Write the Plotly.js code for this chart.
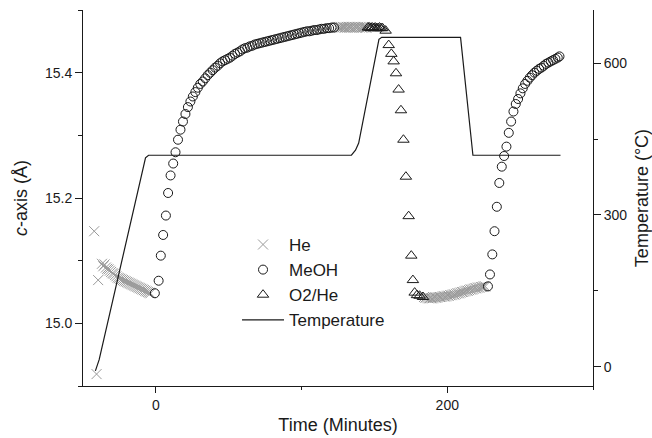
<!DOCTYPE html>
<html>
<head>
<meta charset="utf-8">
<script src="https://cdn.plot.ly/plotly-3.0.1.min.js"></script>
<style>html,body{margin:0;padding:0;background:#fff;}#chart{width:652px;height:438px;}</style>
</head>
<body>
<div id="chart"></div>
<script>
// He (gray crosses), three runs
const heTime1 = [-42.3, -40.7, -39.6, -37.0, -36.1, -35.2, -34.3, -33.4, -32.5, -31.6, -30.7, -29.8, -28.9, -28.0, -27.1, -26.2, -25.3, -24.4, -23.5, -22.6, -21.7, -20.8, -19.9, -19.0, -18.1, -17.2, -16.3, -15.4, -14.5, -13.6, -12.7, -11.8, -10.9, -10.0, -9.1, -8.2, -7.3, -6.4, -5.5, -4.6, -3.7];
const heC1 = [15.147, 14.919, 15.069, 15.095, 15.091, 15.094, 15.089, 15.087, 15.086, 15.084, 15.082, 15.080, 15.079, 15.077, 15.075, 15.073, 15.072, 15.071, 15.070, 15.069, 15.068, 15.067, 15.066, 15.065, 15.064, 15.063, 15.062, 15.061, 15.060, 15.059, 15.058, 15.057, 15.056, 15.055, 15.054, 15.053, 15.052, 15.051, 15.050, 15.049, 15.048];
const heTime2 = [124.5, 125.3, 126.1, 126.9, 127.7, 128.5, 129.3, 130.1, 130.9, 131.7, 132.5, 133.3, 134.1, 134.9, 135.7, 136.5, 137.3, 138.1, 138.9, 139.7, 140.5, 141.3, 142.1, 142.9, 143.7, 144.5];
const heC2 = [15.472, 15.473, 15.472, 15.473, 15.472, 15.473, 15.472, 15.472, 15.473, 15.472, 15.473, 15.472, 15.472, 15.473, 15.472, 15.473, 15.472, 15.472, 15.473, 15.472, 15.473, 15.472, 15.472, 15.473, 15.472, 15.472];
const heTime3 = [184, 185, 186, 187, 188, 189, 190, 191, 192, 193, 194, 195, 196, 197, 198, 199, 200, 201, 202, 203, 204, 205, 206, 207, 208, 209, 210, 211, 212, 213, 214, 215, 216, 217, 218, 219, 220, 221, 222, 223, 224, 225, 226];
const heC3 = [15.042, 15.041, 15.041, 15.040, 15.040, 15.040, 15.040, 15.041, 15.041, 15.041, 15.042, 15.042, 15.042, 15.043, 15.043, 15.043, 15.044, 15.044, 15.045, 15.045, 15.046, 15.046, 15.047, 15.048, 15.048, 15.049, 15.050, 15.050, 15.051, 15.052, 15.052, 15.053, 15.054, 15.054, 15.055, 15.056, 15.056, 15.057, 15.057, 15.058, 15.058, 15.059, 15.059];

// MeOH (open circles), two runs
const meohTime1 = [-0.7, 1.9, 3.4, 5.0, 6.9, 8.4, 10.1, 11.9, 13.5, 15.2, 16.9, 18.6, 20.3, 22.0, 23.7, 25.4, 27.1, 28.8, 30.5, 32.2, 33.9, 35.6, 37.3, 39.0, 40.7, 42.4, 44.1, 45.8, 47.5, 49.2, 50.9, 52.6, 54.3, 56.0, 57.7, 59.4, 61.1, 62.8, 64.5, 66.2, 67.9, 69.6, 71.3, 73.0, 74.7, 76.4, 78.1, 79.8, 81.5, 83.2, 84.9, 86.6, 88.3, 90.0, 91.7, 93.4, 95.1, 96.8, 98.5, 100.2, 101.9, 103.6, 105.3, 107.0, 108.7, 110.4, 112.1, 113.8, 115.5, 117.2, 118.9, 120.6, 122.3];
const meohC1 = [15.048, 15.068, 15.108, 15.141, 15.172, 15.208, 15.236, 15.255, 15.273, 15.293, 15.309, 15.322, 15.334, 15.345, 15.354, 15.362, 15.369, 15.376, 15.382, 15.386, 15.391, 15.396, 15.400, 15.404, 15.408, 15.411, 15.415, 15.418, 15.420, 15.422, 15.424, 15.427, 15.430, 15.432, 15.434, 15.437, 15.439, 15.440, 15.442, 15.443, 15.445, 15.446, 15.447, 15.448, 15.449, 15.450, 15.451, 15.452, 15.453, 15.454, 15.455, 15.456, 15.457, 15.458, 15.459, 15.460, 15.461, 15.462, 15.463, 15.464, 15.465, 15.466, 15.466, 15.467, 15.468, 15.468, 15.469, 15.470, 15.470, 15.471, 15.471, 15.472, 15.472];
const meohTime2 = [227.9, 229.3, 230.9, 232.4, 234.0, 235.7, 237.4, 239.0, 240.6, 242.2, 243.8, 245.4, 247.0, 248.6, 250.2, 251.8, 253.4, 255.0, 256.6, 258.2, 259.8, 261.4, 263.0, 264.6, 266.2, 267.8, 269.4, 271.0, 272.6, 274.2, 275.8, 277.0];
const meohC2 = [15.059, 15.078, 15.110, 15.147, 15.186, 15.224, 15.250, 15.267, 15.282, 15.304, 15.322, 15.338, 15.350, 15.358, 15.367, 15.375, 15.382, 15.387, 15.392, 15.396, 15.400, 15.403, 15.406, 15.408, 15.411, 15.414, 15.416, 15.418, 15.420, 15.422, 15.424, 15.426];

// O2/He (open triangles)
const o2Time = [145.5, 146.5, 147.5, 148.5, 149.5, 150.5, 151.5, 152.5, 153.5, 154.5, 155.5, 157.7, 159.8, 161.6, 163.2, 164.8, 166.6, 168.2, 169.9, 171.6, 173.5, 175.3, 176.4, 177.6, 179.2, 181.0, 183.3];
const o2C = [15.472, 15.472, 15.471, 15.472, 15.471, 15.472, 15.471, 15.471, 15.472, 15.471, 15.471, 15.467, 15.444, 15.430, 15.418, 15.399, 15.373, 15.340, 15.293, 15.234, 15.171, 15.108, 15.069, 15.049, 15.045, 15.044, 15.042];

// Temperature profile (right axis)
const tempTime = [-41.5, -38.9, -7.1, -5.0, 134.2, 137.0, 139.2, 153.1, 155.0, 209.1, 217.6, 277.7];
const tempC = [-8, 14, 413, 418, 418, 428, 442, 647, 651, 651, 418, 418];

const FONT = 'Liberation Sans, Arial, sans-serif';
const INK = '#1a1a1a';

const traces = [
  {x: heTime1.concat(heTime2, heTime3), y: heC1.concat(heC2, heC3), name: 'He', type: 'scatter', mode: 'markers',
   marker: {symbol: 'x-thin-open', size: 10, color: '#9a9a9a', line: {color: '#9a9a9a', width: 1}}},
  {x: meohTime1.concat(meohTime2), y: meohC1.concat(meohC2), name: 'MeOH', type: 'scatter', mode: 'markers',
   marker: {symbol: 'circle-open', size: 9, color: INK, line: {color: INK, width: 1}}},
  {x: o2Time, y: o2C, name: 'O2/He', type: 'scatter', mode: 'markers',
   marker: {symbol: 'triangle-up-open', size: 10, color: INK, line: {color: INK, width: 1}}},
  {x: tempTime, y: tempC, name: 'Temperature', type: 'scatter', mode: 'lines', yaxis: 'y2',
   line: {color: INK, width: 1.2}}
];

const layout = {
  width: 652, height: 438,
  margin: {l: 83, r: 59, t: 10, b: 52},
  paper_bgcolor: '#fff', plot_bgcolor: '#fff',
  font: {family: FONT, color: INK, size: 14},
  showlegend: true,
  legend: {x: 0.302, y: 0.423, xanchor: 'left', yanchor: 'top', bgcolor: 'rgba(0,0,0,0)',
           font: {family: FONT, size: 17, color: INK}, itemwidth: 42, tracegroupgap: 0},
  xaxis: {range: [-50, 300], tick0: 0, dtick: 200, ticks: 'outside', ticklen: 6, tickwidth: 1, tickcolor: INK,
          minor: {dtick: 100, ticks: 'outside', ticklen: 3, tickcolor: INK},
          showline: true, linecolor: INK, linewidth: 1, showgrid: false, zeroline: false,
          tickfont: {size: 14}, title: {text: 'Time (Minutes)', font: {size: 18}, standoff: 6}},
  yaxis: {range: [14.9, 15.5], tick0: 15.0, dtick: 0.2, tickformat: '.1f', ticks: 'outside', ticklen: 7, tickwidth: 1, tickcolor: INK,
          minor: {dtick: 0.1, ticks: 'outside', ticklen: 4, tickcolor: INK},
          showline: true, linecolor: INK, linewidth: 1, showgrid: false, zeroline: false,
          tickfont: {size: 14}, title: {text: '<i>c</i>-axis (Å)', font: {size: 18}, standoff: 12}},
  yaxis2: {overlaying: 'y', side: 'right', range: [-38, 705], tick0: 0, dtick: 300, ticks: 'outside', ticklen: 7, tickwidth: 1, tickcolor: INK,
           minor: {dtick: 150, ticks: 'outside', ticklen: 4, tickcolor: INK},
           showline: true, linecolor: INK, linewidth: 1, showgrid: false, zeroline: false,
           tickfont: {size: 14}, title: {text: 'Temperature (°C)', font: {size: 18}, standoff: 14}}
};

Plotly.newPlot('chart', traces, layout, {displayModeBar: false, staticPlot: true});
</script>
</body>
</html>
